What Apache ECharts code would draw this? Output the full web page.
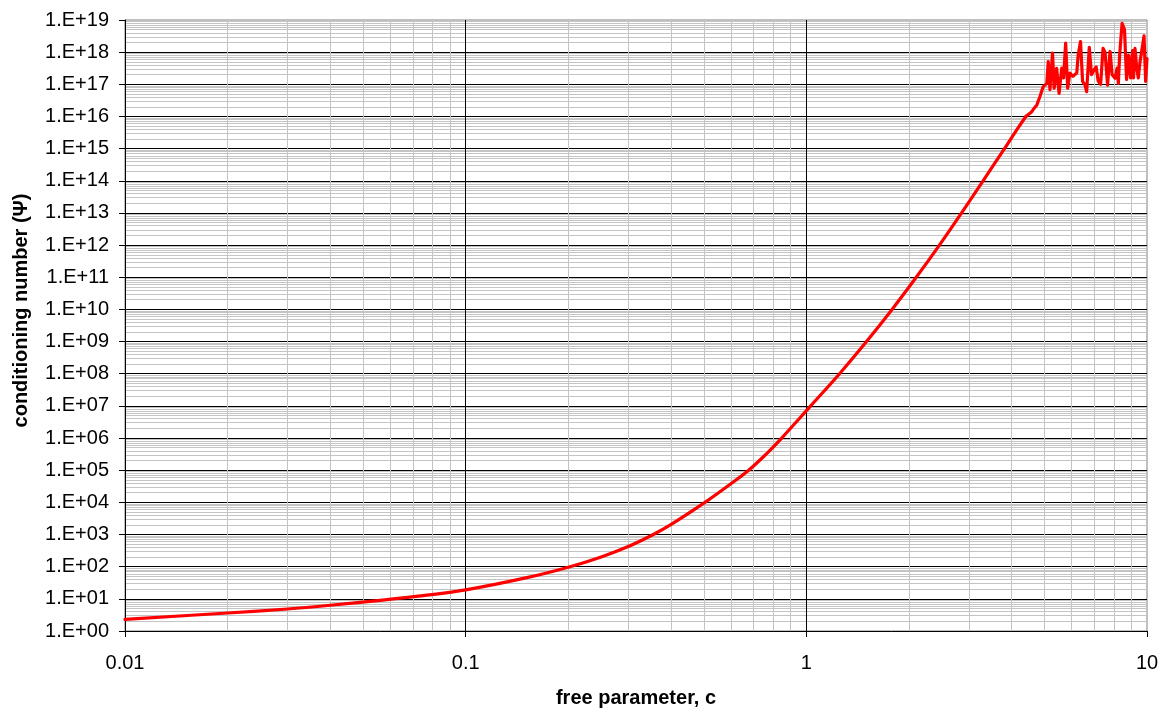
<!DOCTYPE html>
<html>
<head>
<meta charset="utf-8">
<title>Conditioning number vs free parameter</title>
<script src="https://cdn.jsdelivr.net/npm/echarts@6/dist/echarts.min.js"></script>
<style>
  html, body { margin: 0; padding: 0; background: #fff; }
  #chart { width: 1166px; height: 713px; }
</style>
</head>
<body>
<div id="chart"></div>
<script>
// free parameter c (x) and conditioning number Psi (y)
const cValues = [
  0.01, 0.02, 0.03, 0.04, 0.058, 0.075, 0.1, 0.15, 0.2025, 0.25,
  0.3, 0.3555, 0.4, 0.504, 0.58, 0.68, 0.765, 0.8467, 1.03, 1.252,
  1.502, 1.785, 2.102, 2.459, 2.856, 3.302, 3.817, 4.15, 4.41, 4.59,
  4.66, 4.75, 4.85, 4.96, 5.08, 5.13, 5.19, 5.28, 5.34, 5.43,
  5.52, 5.62, 5.69, 5.77, 5.85, 5.94, 6.06, 6.22, 6.28, 6.38,
  6.47, 6.58, 6.65, 6.77, 6.87, 6.99, 7.09, 7.19, 7.31, 7.43,
  7.53, 7.66, 7.79, 7.90, 8.06, 8.17, 8.24, 8.31, 8.45, 8.59,
  8.71, 8.83, 8.95, 9.07, 9.13, 9.22, 9.33, 9.43, 9.54, 9.67,
  9.80, 9.91, 10.0
];
const psiValues = [
  2.3, 3.63, 4.84, 6.31, 9.33, 12.6, 19, 44.7, 100, 200,
  422, 1.0e3, 2.03e3, 1.0e4, 2.9e4, 1.04e5, 3.3e5, 1.0e6, 1.0e7, 1.0e8,
  1.0e9, 1.0e10, 1.0e11, 1.0e12, 1.0e13, 1.0e14, 1.0e15, 3.9e15, 1.0e16, 1.41e16,
  1.78e16, 2.29e16, 4.17e16, 8.5e16, 1.07e17, 5.1e17, 6.8e16, 9.3e17, 7.6e16, 3.16e17,
  5.2e16, 3.2e17, 1.58e17, 1.9e18, 7.6e16, 2.24e17, 1.78e17, 2.24e17, 8.1e17, 2.14e18,
  1.23e17, 9.5e16, 5.9e16, 1.41e18, 2.0e17, 2.8e17, 3.5e17, 1.26e17, 1.0e17, 1.32e18,
  1.0e18, 9.5e16, 1.05e18, 2.0e17, 1.55e17, 3.2e17, 1.07e17, 7.9e17, 7.9e18, 5.0e18,
  1.41e17, 7.9e17, 1.58e17, 1.12e18, 1.58e17, 1.32e18, 3.2e17, 1.58e17, 5.0e17, 1.26e18,
  3.2e18, 1.23e17, 6.3e17
];

// c where the curve stops being smooth and turns into numerical noise
const noiseStartC = 4.41;

// axis ranges
const xMin = 0.01, xMax = 10;
const yMin = 1, yMax = 1e19;

const xTitle = 'free parameter, c';
const yTitle = 'conditioning number (\u03A8)';

const points = cValues.map((c, i) => [c, psiValues[i]]);
const splitIdx = cValues.indexOf(noiseStartC);
const smoothPart = points.slice(0, splitIdx + 1);
const noisyPart = points.slice(splitIdx);

const FONT = '"Liberation Sans", Arial, sans-serif';

function fmtX(v) {
  return String(+Number(v).toPrecision(6));
}
function fmtY(v) {
  const e = Math.round(Math.log10(v));
  return '1.E+' + (e < 10 ? '0' + e : String(e));
}

const chart = echarts.init(document.getElementById('chart'), null, { renderer: 'canvas' });

const lineStyle = { color: '#ff0000', width: 3.2, join: 'round', cap: 'round' };

const option = {
  animation: false,
  backgroundColor: '#ffffff',
  grid: {
    left: 125, right: 19, top: 20, bottom: 81,
    show: true, borderColor: '#808080', borderWidth: 1,
    backgroundColor: 'transparent'
  },
  xAxis: {
    type: 'log', logBase: 10, min: xMin, max: xMax, interval: 1,
    name: xTitle, nameLocation: 'middle', nameGap: 57,
    nameTextStyle: { fontFamily: FONT, fontWeight: 'bold', fontSize: 20, color: '#000' },
    axisLine: { show: true, onZero: false, lineStyle: { color: '#000', width: 1 } },
    axisTick: { show: true, inside: false, length: 6, lineStyle: { color: '#000', width: 1 } },
    axisLabel: { formatter: fmtX, fontFamily: FONT, fontSize: 20, color: '#000', margin: 22 },
    splitLine: { show: true, showMinLine: false, showMaxLine: false, lineStyle: { color: '#000', width: 1 } },
    minorTick: { show: false, splitNumber: 9 },
    minorSplitLine: { show: true, lineStyle: { color: '#c4c4c4', width: 1 } }
  },
  yAxis: {
    type: 'log', logBase: 10, min: yMin, max: yMax, interval: 1,
    name: yTitle, nameLocation: 'middle', nameRotate: 90, nameGap: 94,
    nameTextStyle: { fontFamily: FONT, fontWeight: 'bold', fontSize: 20, color: '#000', padding: [0, 0, 0, 30] },
    axisLine: { show: true, onZero: false, lineStyle: { color: '#000', width: 1 } },
    axisTick: { show: true, inside: false, length: 6, lineStyle: { color: '#000', width: 1 } },
    axisLabel: { formatter: fmtY, fontFamily: FONT, fontSize: 20, color: '#000', margin: 16 },
    splitLine: { show: true, showMinLine: false, showMaxLine: false, lineStyle: { color: '#000', width: 1 } },
    minorTick: { show: false, splitNumber: 9 },
    minorSplitLine: { show: true, lineStyle: { color: '#c4c4c4', width: 1 } }
  },
  series: [{
    name: 'conditioning number',
    type: 'line',
    data: smoothPart,
    showSymbol: false,
    symbol: 'none',
    smooth: 0.35,
    clip: true,
    lineStyle: lineStyle,
    z: 5
  }, {
    name: 'conditioning number (noise)',
    type: 'line',
    data: noisyPart,
    showSymbol: false,
    symbol: 'none',
    smooth: false,
    clip: true,
    lineStyle: lineStyle,
    z: 5
  }]
};

chart.setOption(option);
</script>
</body>
</html>
